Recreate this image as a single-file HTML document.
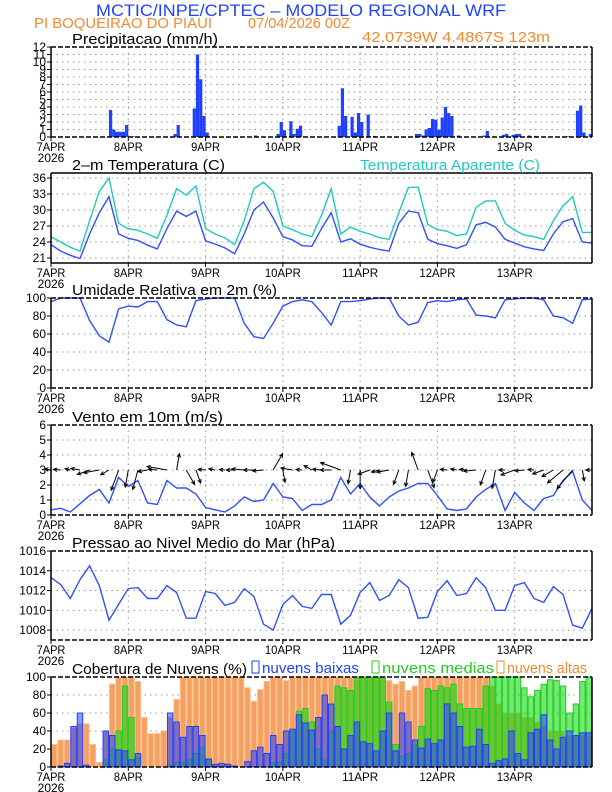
<!DOCTYPE html>
<html><head><meta charset="utf-8"><style>
html,body{margin:0;padding:0;background:#fff}
svg{display:block;font-family:"Liberation Sans",sans-serif}
</style></head><body>
<svg id="c" width="612" height="792" viewBox="0 0 612 792" xmlns="http://www.w3.org/2000/svg">
<text x="96" y="16" font-size="17" fill="#2244ff" textLength="410" lengthAdjust="spacingAndGlyphs">MCTIC/INPE/CPTEC – MODELO REGIONAL WRF</text>
<text x="34" y="28" font-size="15" fill="#f08a30" textLength="178" lengthAdjust="spacingAndGlyphs">PI BOQUEIRAO DO PIAUI</text>
<text x="248" y="28" font-size="15" fill="#f08a30" textLength="102" lengthAdjust="spacingAndGlyphs">07/04/2026 00Z</text>
<text x="362" y="42" font-size="15" fill="#f08a30" textLength="188" lengthAdjust="spacingAndGlyphs">42.0739W 4.4867S 123m</text>
<g id="plots"></g>
</svg>
<script>
// ---- data (t in hours from 7APR 00Z) ----
const hours3 = [];for(let i=0;i<=56;i++)hours3.push(i*3);
const dayLabels = ["7APR","8APR","9APR","10APR","11APR","12APR","13APR"];
const precipHours = [13,18,19,20,21,22,23,25,38,39,44,45,46,47,48,63,70,71,72,74,75,76,77,89,90,91,93,94,95,96,98,100,113,114,115,116,117,118,119,120,121,122,123,124,126,134,135,140,141,143,144,145,148,150,160,163,164,165,167];
const precipVals = [0.05,3.6,1.0,0.7,0.7,0.7,1.6,0.1,0.4,1.6,3.8,11,7.7,2.8,0.6,0.2,0.4,2.0,0.9,2.1,0.4,1.1,1.5,1.5,6.5,2.8,2.7,0.6,3.2,2.0,3.0,0.15,0.4,0.4,0.2,1.0,1.2,2.4,2.3,1.0,2.6,4.0,3.2,2.8,0.2,0.2,0.8,0.3,0.4,0.3,0.4,0.4,0.2,0.15,0.1,3.5,4.2,0.6,0.4];
const tempVals = [23.5,22.3,21.5,20.9,25.5,29.5,32.5,25.5,24.7,24.3,23.4,22.7,26.5,29.8,28.8,29.8,24.2,23.6,22.9,21.8,25.5,30,31.5,28.5,25,24.4,23.3,23.2,26.5,29.5,24,24.6,23.6,23.0,22.6,22.3,27.5,29.8,29.5,24.5,23.7,23.3,22.8,23.5,27.2,27.7,26.8,24.5,23.8,23.1,22.7,22.4,25.5,27.8,28.4,24.0,23.8];
const appTempVals = [25,24,23,22.3,28,33.5,36,27.5,26.5,26.2,25.5,24.7,29,34,32.8,34.5,26.5,25.5,24.8,23.5,28,34,35.2,33.5,27,26.3,25.5,25,29,34,25.5,26.8,26,25.5,24.8,24.5,29.5,34.2,34.3,27.3,26.3,26,25.2,25.5,30.5,31.7,31.7,27.5,26.2,25.3,25,24.5,28,30.8,32.5,25.8,25.8];
const rhVals = [96,100,100,100,75,58,51,88,91,90,96,96,76,70,68,97,99,100,100,100,72,57,55,72,91,96,98,96,84,70,96,96,97,99,100,100,80,70,73,95,97,96,98,99,81,80,78,98,99,100,100,98,80,78,72,98,99];
const windVals = [0.35,0.45,0.2,0.75,1.3,1.7,0.8,2.5,1.9,2.3,0.8,0.7,2.3,1.8,1.8,1.4,0.5,0.35,0.2,0.6,1.2,0.9,1.0,2.1,1.2,1.1,0.3,0.7,0.7,1.0,2.5,1.4,2.1,1.2,0.6,1.2,1.6,1.8,2.1,2.1,1.3,0.4,0.3,0.4,1.2,1.7,2.1,0.3,1.5,0.8,0.3,1.1,1.3,2.3,2.9,1.0,0.3];
const windDir = [170,175,165,170,200,190,210,250,260,255,190,175,170,80,300,290,175,170,175,180,175,180,185,60,280,170,175,150,175,180,160,260,270,200,195,190,250,260,110,290,250,175,170,175,185,250,260,180,200,185,175,200,210,220,230,280,180];
const presVals = [1013.3,1012.6,1011.2,1013.1,1014.5,1012.5,1009.0,1010.6,1012.2,1012.3,1011.2,1011.2,1012.5,1011.8,1009.2,1009.2,1011.9,1011.7,1010.5,1010.8,1012.2,1011.4,1008.6,1008.0,1010.6,1011.5,1010.4,1010.2,1011.6,1011.6,1008.6,1009.5,1011.8,1012.8,1011.0,1011.5,1013.1,1012.3,1009.2,1009.3,1011.9,1013.0,1011.5,1011.7,1013.3,1012.3,1010.0,1010.0,1012.5,1012.8,1011.2,1010.8,1012.4,1011.6,1008.5,1008.2,1010.2];
const cloudLow = [0,1,4,45,60,2,0,0,40,35,19,18,8,15,0,0,0,0,60,50,33,45,45,35,9,3,4,3,1,0,6,18,22,15,35,25,40,42,58,49,41,55,80,70,45,20,35,50,28,26,18,40,60,18,60,50,30,21,31,26,30,70,60,45,22,23,42,25,4,7,9,40,15,8,38,42,58,30,20,33,40,35,38,38];
const cloudMid = [0,0,0,0,0,0,0,0,8,20,40,90,55,10,0,0,0,0,2,5,5,8,15,22,8,0,0,0,0,0,0,0,0,0,5,5,15,40,62,65,50,20,8,40,90,88,85,100,100,100,100,100,72,25,12,15,25,45,87,85,90,88,92,70,65,65,65,90,100,100,100,100,100,88,78,85,92,97,96,90,60,70,95,100];
const cloudHigh = [25,30,30,43,48,48,25,5,40,92,100,100,100,95,55,37,37,40,55,75,100,100,100,100,100,100,100,100,100,100,88,73,86,95,100,100,96,100,100,100,100,100,100,100,100,100,100,100,100,100,100,100,96,92,95,85,90,100,100,100,100,100,100,100,100,100,100,100,90,70,60,60,60,55,55,50,45,40,40,40,35,35,35,35];

// ---- helpers ----
const NS="http://www.w3.org/2000/svg";
const root=document.getElementById('plots');
const X0=51,X1=592,TMAX=168;
const xs=t=>X0+(t/TMAX)*(X1-X0);
function mk(tag,attrs,parent){const e=document.createElementNS(NS,tag);for(const k in attrs)e.setAttribute(k,attrs[k]);(parent||root).appendChild(e);return e;}

function panel(name,top,bot,vmin,vmax,ticks,title,titleW,dashTop){
  const g=mk('g',{});
  
  
  const ys=v=>bot-(v-vmin)/(vmax-vmin)*(bot-top);
  ticks.forEach(v=>{
    const y=ys(v);
    if(y>top+1&&y<bot-1){const l=mk('line',{x1:X0,x2:X1,y1:y,y2:y,stroke:'#999','stroke-width':1,'stroke-dasharray':'1.5,4'},g);
      }
    const tl=mk('line',{x1:X0-4,x2:X0,y1:y,y2:y,stroke:'#000'},g);
    
    const tx=mk('text',{x:X0-5,y:y+4,'text-anchor':'end','font-size':12,fill:'#000'},g);
    tx.textContent=String(v);
    
  });
  for(let d=1;d<7;d++){const x=xs(d*24);
    const l=mk('line',{x1:x,x2:x,y1:top,y2:bot,stroke:'#999','stroke-width':1,'stroke-dasharray':'1.5,4'},g);
    }
  dayLabels.forEach((lab,d)=>{const x=xs(d*24);
    const tk=mk('line',{x1:x,x2:x,y1:bot,y2:bot+4,stroke:'#000'},g);
    
    const t=mk('text',{x:x,y:bot+14,'text-anchor':'middle','font-size':12,fill:'#000','textLength':lab.length*7.2,'lengthAdjust':'spacingAndGlyphs'},g);
    t.textContent=lab;
    });
  const yr=mk('text',{x:X0,y:bot+25,'text-anchor':'middle','font-size':12,fill:'#000'},g);
  yr.textContent='2026';
  
  const tt=mk('text',{x:72,y:top-3,'font-size':15,fill:'#000',textLength:titleW,lengthAdjust:'spacingAndGlyphs'},g);
  tt.textContent=title;
  
  const plot=mk('g',{},g);
  
  const fr=mk('g',{},g);
  
  mk('line',{x1:X0,x2:X0,y1:top,y2:bot,stroke:'#000','stroke-width':1.5},fr);
  mk('line',{x1:X1,x2:X1,y1:top,y2:bot,stroke:'#000','stroke-width':1.5},fr);
  mk('line',{x1:X0,x2:X1,y1:bot,y2:bot,stroke:'#000','stroke-width':1.5,'stroke-dasharray':dashTop?'5,2':'none'},fr);
  mk('line',{x1:X0,x2:X1,y1:top,y2:top,stroke:'#000','stroke-width':1.5,'stroke-dasharray':dashTop?'5,2':'none'},fr);
  return {ys,plot,g};
}
function line(p,vals,color,name){
  const d=vals.map((v,i)=>(i?'L':'M')+xs(hours3[i]).toFixed(1)+','+p.ys(v).toFixed(1)).join(' ');
  const e=mk('path',{d:d,fill:'none',stroke:color,'stroke-width':1.4},p.plot);
  
}

// Precip
const P1=panel('precip',47,137,0,12,[0,1,2,3,4,5,6,7,8,9,10,11,12],'Precipitacao (mm/h)',146,true);
precipHours.forEach((h,i)=>{const w=(X1-X0)/TMAX;const y=P1.ys(precipVals[i]);
  const r=mk('rect',{x:xs(h),y:y,width:w,height:P1.ys(0)-y,fill:'#2040ff'},P1.plot);
  });

// Temp
const P2=panel('temp',173,263,20.06,36.94,[21,24,27,30,33,36],'2–m Temperatura (C)',153,false);
const at=mk('text',{x:360,y:170,'font-size':15,fill:'#22c8c0',textLength:180,lengthAdjust:'spacingAndGlyphs'});
at.textContent='Temperatura Aparente (C)';

line(P2,appTempVals,'#22c8c0','apparent-temp-line');
line(P2,tempVals,'#3050ff','temp-line');

// RH
const P3=panel('rh',298,388,0,100,[0,20,40,60,80,100],'Umidade Relativa em 2m (%)',205,true);
line(P3,rhVals,'#3050ff','rh-line');

// Wind
const P4=panel('wind',425,515,0,6,[0,1,2,3,4,5,6],'Vento em 10m (m/s)',151,true);
line(P4,windVals,'#3050ff','wind-speed-line');
windVals.forEach((s,i)=>{const x=xs(hours3[i]);const y=P4.ys(3);const L=4+s*7;const a=windDir[i]*Math.PI/180;
  const x2=x+L*Math.cos(a),y2=y-L*Math.sin(a);
  const g=mk('g',{},P4.plot);
  
  mk('line',{x1:x,y1:y,x2:x2,y2:y2,stroke:'#000','stroke-width':1},g);
  const h1=a+Math.PI-0.45,h2=a+Math.PI+0.45;
  mk('path',{d:`M${x2+4*Math.cos(h1)},${y2-4*Math.sin(h1)} L${x2},${y2} L${x2+4*Math.cos(h2)},${y2-4*Math.sin(h2)}`,fill:'none',stroke:'#000','stroke-width':1},g);
});

// Pressure
const P5=panel('pressure',551,640,1007.0,1016,[1008,1010,1012,1014,1016],'Pressao ao Nivel Medio do Mar (hPa)',263,true);
line(P5,presVals,'#3050ff','pressure-line');

// Clouds
const P6=panel('cloud',677,767,0,100,[0,20,40,60,80,100],'Cobertura de Nuvens (%)',175,true);
const bw=(X1-X0)/cloudLow.length;
function bars(vals,fill,stroke,name){vals.forEach((v,i)=>{const y=P6.ys(v);
  const r=mk('rect',{x:X0+i*bw+0.5,y:y,width:bw-1,height:P6.ys(0)-y,fill:fill,stroke:stroke,'stroke-width':1},P6.plot);
  });}
bars(cloudHigh,'#f5a060','#f8c090','cloud-high-bar');
bars(cloudMid,'rgba(20,220,20,0.6)','#22cc22','cloud-mid-bar');
bars(cloudLow,'rgba(40,70,255,0.55)','#2040ff','cloud-low-bar');
const lg=[['nuvens baixas','#2040ff',252,97],['nuvens medias','#22cc22',372,112],['nuvens altas','#f08a30',497,80]];
lg.forEach(([t,c,x,w])=>{const g=mk('g',{});
  
  mk('rect',{x:x,y:661,width:7,height:12,fill:'none',stroke:c,'stroke-width':1},g);
  const tx=mk('text',{x:x+10,y:673,'font-size':15,fill:c,textLength:w,lengthAdjust:'spacingAndGlyphs'},g);tx.textContent=t;});
</script>
</body></html>
